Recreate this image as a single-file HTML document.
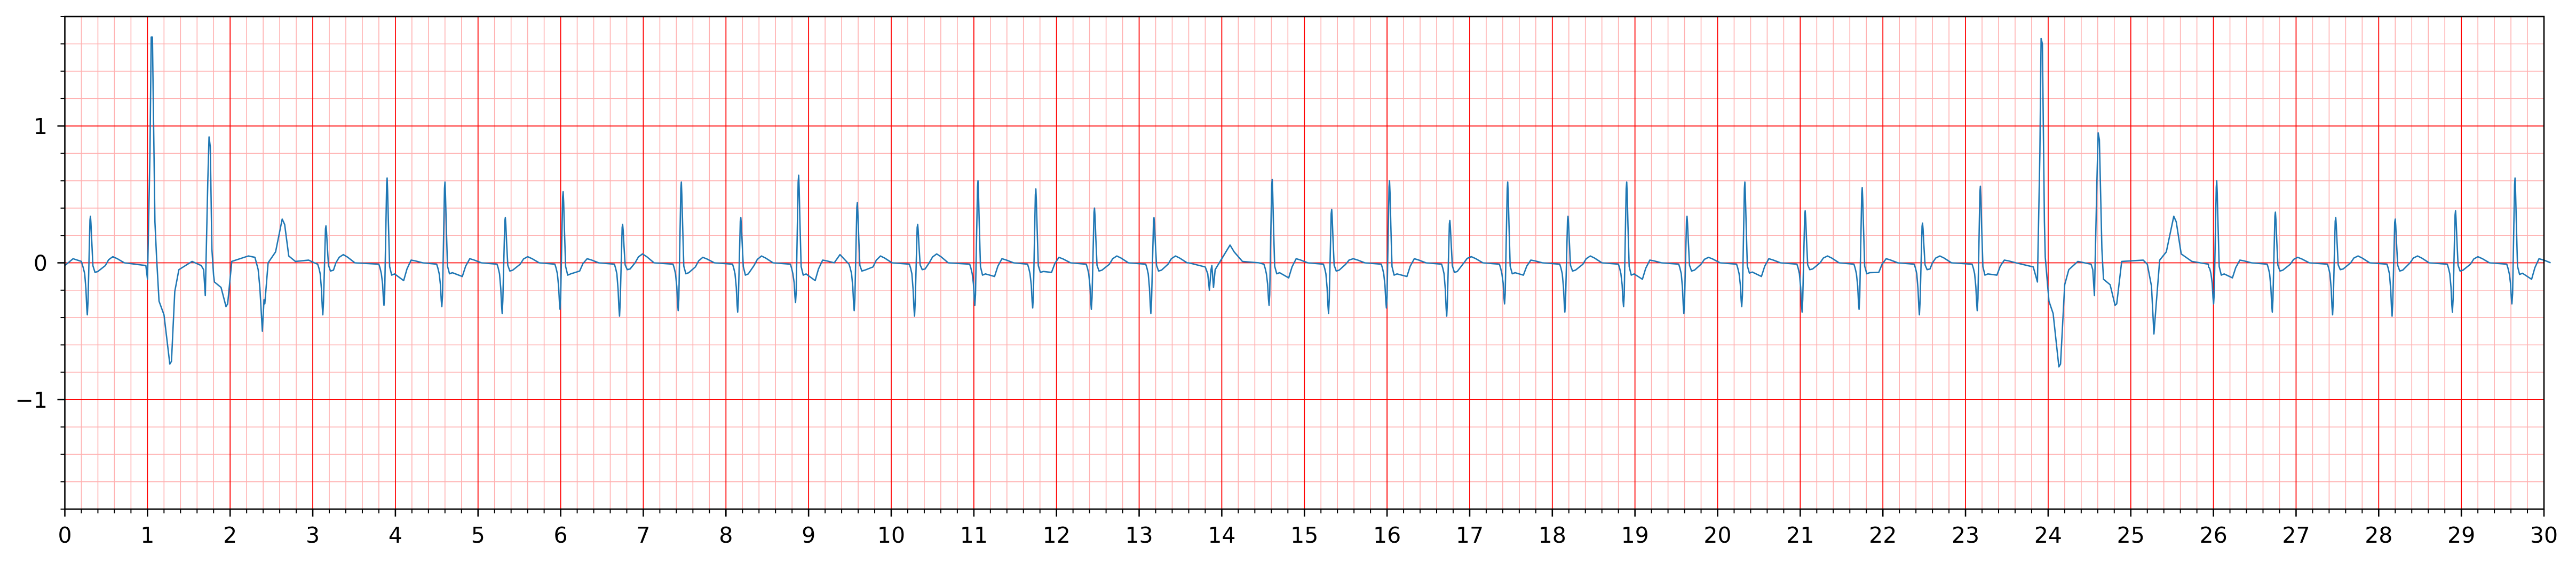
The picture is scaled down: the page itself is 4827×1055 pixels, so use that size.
<!DOCTYPE html>
<html><head><meta charset="utf-8"><style>
html,body{margin:0;padding:0;background:#fff;}
svg{display:block;}
text{font-family:"DejaVu Sans","Liberation Sans",sans-serif;font-size:41px;fill:#000;}
</style></head><body>
<svg id="chart" width="4827" height="1055" viewBox="0 0 4827 1055" xmlns="http://www.w3.org/2000/svg">
<g id="grid"></g>
<path id="trace" fill="none" stroke="#1f77b4" stroke-width="2.6" stroke-linejoin="round"></path>
<g id="axes"></g>
</svg>
<script>
// Normal beats: R time, R peak, pre-R trough, post-QRS level, pre-T level, T time, T amplitude
const beatR      = [0.31,3.16,3.90,4.60,5.33,6.03,6.75,7.46,8.18,8.88,9.59,10.32,11.05,11.75,12.46,13.18,14.61,15.33,16.03,16.76,17.46,18.19,18.90,19.63,20.33,21.06,21.75,22.48,23.18,26.04,26.75,27.48,28.20,28.93,29.65];
const beatPeak   = [0.34,0.27,0.62,0.59,0.33,0.52,0.28,0.59,0.33,0.64,0.44,0.28,0.60,0.54,0.40,0.33,0.61,0.39,0.60,0.31,0.59,0.34,0.59,0.34,0.59,0.38,0.55,0.29,0.56,0.60,0.37,0.33,0.32,0.38,0.62];
const beatTrough = [-0.38,-0.38,-0.31,-0.32,-0.37,-0.34,-0.39,-0.35,-0.36,-0.29,-0.35,-0.39,-0.31,-0.33,-0.34,-0.37,-0.31,-0.37,-0.33,-0.39,-0.30,-0.36,-0.32,-0.37,-0.32,-0.36,-0.34,-0.38,-0.35,-0.30,-0.36,-0.38,-0.39,-0.36,-0.30];
const beatPost   = [-0.07,-0.06,-0.09,-0.08,-0.06,-0.09,-0.05,-0.08,-0.09,-0.09,-0.06,-0.05,-0.09,-0.07,-0.06,-0.06,-0.08,-0.06,-0.09,-0.07,-0.08,-0.06,-0.09,-0.06,-0.075,-0.05,-0.08,-0.05,-0.09,-0.09,-0.06,-0.05,-0.06,-0.06,-0.085];
const beatPreT   = [-0.02,0.0,-0.13,-0.10,-0.01,-0.06,0.0,-0.03,-0.02,-0.13,-0.03,0.0,-0.10,-0.07,-0.01,-0.01,-0.11,-0.01,-0.10,0.0,-0.09,-0.01,-0.12,-0.01,-0.10,0.0,-0.07,0.0,-0.09,-0.11,-0.01,0.0,0.0,-0.01,-0.12];
const beatTTime  = [0.58,3.37,4.19,4.90,5.60,6.32,6.99,7.72,8.43,9.17,9.87,10.55,11.34,12.03,12.73,13.44,14.90,15.59,16.33,17.02,17.74,18.46,19.18,19.89,20.62,21.33,22.04,22.69,23.47,26.32,27.02,27.75,28.47,29.20,29.94];
const beatTAmp   = [0.045,0.06,0.02,0.03,0.045,0.03,0.065,0.04,0.05,0.02,0.05,0.065,0.03,0.04,0.05,0.05,0.03,0.03,0.03,0.045,0.02,0.05,0.02,0.04,0.03,0.05,0.03,0.05,0.02,0.02,0.04,0.05,0.05,0.045,0.03];
// Irregular segments (ectopic beats etc.) as explicit points
const specT = [0,0.1,0.2, 0.98,1.0,1.03,1.045,1.06,1.09,1.11,1.14,1.20,1.27,1.29,1.33,1.38,1.54,1.65,1.68,1.70,1.73,1.745,1.76,1.78,1.80,1.81,1.89,1.95,1.97,2.02,2.22,2.30,2.34,2.36,2.39,2.41,2.42,2.46,2.55,2.63,2.66,2.71,2.79,2.95,3.02,
 9.38,
 13.60,13.80,13.83,13.85,13.87,13.88,13.90,13.92,14.00,14.10,14.15,14.25,14.45,
 23.82,23.87,23.90,23.915,23.93,23.955,23.965,24.01,24.06,24.13,24.15,24.20,24.25,24.36,24.52,24.54,24.56,24.59,24.605,24.62,24.65,24.67,24.75,24.81,24.83,24.89,25.15,25.20,25.25,25.28,25.31,25.35,25.43,25.52,25.55,25.61,25.74,25.94, 30.0];
const specV = [-0.02,0.03,0.01, -0.02,-0.12,0.8,1.65,1.65,0.3,0.04,-0.28,-0.38,-0.74,-0.72,-0.21,-0.05,0.01,-0.02,-0.05,-0.24,0.6,0.92,0.85,0.1,-0.09,-0.14,-0.18,-0.32,-0.30,0.01,0.05,0.04,-0.05,-0.18,-0.50,-0.27,-0.30,0.0,0.08,0.32,0.28,0.05,0.01,0.02,0.0,
 0.06,
 0.0,-0.03,-0.08,-0.2,-0.05,-0.02,-0.18,-0.05,0.03,0.13,0.08,0.01,0.0,
 -0.03,-0.14,0.8,1.64,1.6,0.3,0.04,-0.28,-0.37,-0.76,-0.74,-0.16,-0.05,0.01,-0.01,-0.05,-0.24,0.6,0.95,0.9,0.1,-0.12,-0.16,-0.31,-0.30,0.01,0.02,-0.01,-0.17,-0.52,-0.28,0.02,0.08,0.34,0.30,0.065,0.01,-0.03, 0.02];
const xTickLabels = ["0","1","2","3","4","5","6","7","8","9","10","11","12","13","14","15","16","17","18","19","20","21","22","23","24","25","26","27","28","29","30"];
const yTickValues = [-1,0,1];
const yTickLabels = ["\u22121","0","1"];

const X0=121.5, X1=4767, Y0=31, Y1=954, XMIN=0, XMAX=30, YMIN=-1.8, YMAX=1.8;
const sx = t => X0 + (t-XMIN)/(XMAX-XMIN)*(X1-X0);
const sy = v => Y1 - (v-YMIN)/(YMAX-YMIN)*(Y1-Y0);
const NS="http://www.w3.org/2000/svg";
function mk(tag, parent, attrs){const e=document.createElementNS(NS,tag);for(const k in attrs)e.setAttribute(k,attrs[k]);parent.appendChild(e);return e;}

const grid=document.getElementById('grid');
for(let i=0;i<=150;i++){ if(i%5===0) continue; const x=sx(i*0.2);
  const l=mk('line',grid,{x1:x,x2:x,y1:Y0,y2:Y1,stroke:'#ffb0b0','stroke-width':1.6});
  
  }
for(let i=-9;i<=9;i++){ if(i%5===0) continue; const y=sy(i*0.2);
  const l=mk('line',grid,{x1:X0,x2:X1,y1:y,y2:y,stroke:'#ffb0b0','stroke-width':1.6});
  
  }
for(let i=0;i<xTickLabels.length;i++){ const x=sx(i);
  const l=mk('line',grid,{x1:x,x2:x,y1:Y0,y2:Y1,stroke:'#ff0000','stroke-width':1.8});
  
  }
for(const v of yTickValues){ const y=sy(v);
  const l=mk('line',grid,{x1:X0,x2:X1,y1:y,y2:y,stroke:'#ff0000','stroke-width':1.8});
  
  }

let pts=[];
for(let i=0;i<specT.length;i++) pts.push([specT[i],specV[i]]);
for(let i=0;i<beatR.length;i++){
  const r=beatR[i],p=beatPeak[i],q=beatTrough[i],s=beatPost[i],pt=beatPreT[i],tt=beatTTime[i],ta=beatTAmp[i];
  pts.push([r-0.10,-0.01],[r-0.085,-0.04],[r-0.07,-0.08],[r-0.055,q*0.5],[r-0.045,q*0.85],[r-0.038,q],[r-0.03,q*0.75],
           [r-0.006,p*0.92],[r,p],[r+0.006,p*0.85],[r+0.016,p*0.45],[r+0.03,s*0.3],[r+0.055,s],[r+0.09,s*0.9],
           [tt-0.09,pt],[tt-0.05,(pt+ta)/2+0.01],[tt,ta],[tt+0.05,ta*0.7],[tt+0.14,0.0]);
}
pts.sort((a,b)=>a[0]-b[0]);
document.getElementById('trace').setAttribute('d', pts.map((q,i)=>(i?'L':'M')+sx(q[0]).toFixed(1)+','+sy(q[1]).toFixed(1)).join(''));

const ax=document.getElementById('axes');
const frame=mk('rect',ax,{x:X0,y:Y0,width:X1-X0,height:Y1-Y0,fill:'none',stroke:'#000','stroke-width':2.6});


for(let i=0;i<=150;i++){ const x=sx(i*0.2); const major=i%5===0;
  const t=mk('line',ax,{x1:x,x2:x,y1:Y1,y2:Y1+(major?14:8),stroke:'#000','stroke-width':major?2.6:2});
  
  }
for(let i=0;i<xTickLabels.length;i++){
  const tx=mk('text',ax,{x:sx(i),y:1017,'text-anchor':'middle'}); tx.textContent=xTickLabels[i];
  
  }
for(let i=-9;i<=9;i++){ const y=sy(i*0.2); const major=i%5===0;
  const t=mk('line',ax,{x1:X0-(major?14:8),x2:X0,y1:y,y2:y,stroke:'#000','stroke-width':major?2.6:2});
  
  }
for(let i=0;i<yTickValues.length;i++){
  const tx=mk('text',ax,{x:89,y:sy(yTickValues[i])+15,'text-anchor':'end'}); tx.textContent=yTickLabels[i];
  
  }
</script>
</body></html>
